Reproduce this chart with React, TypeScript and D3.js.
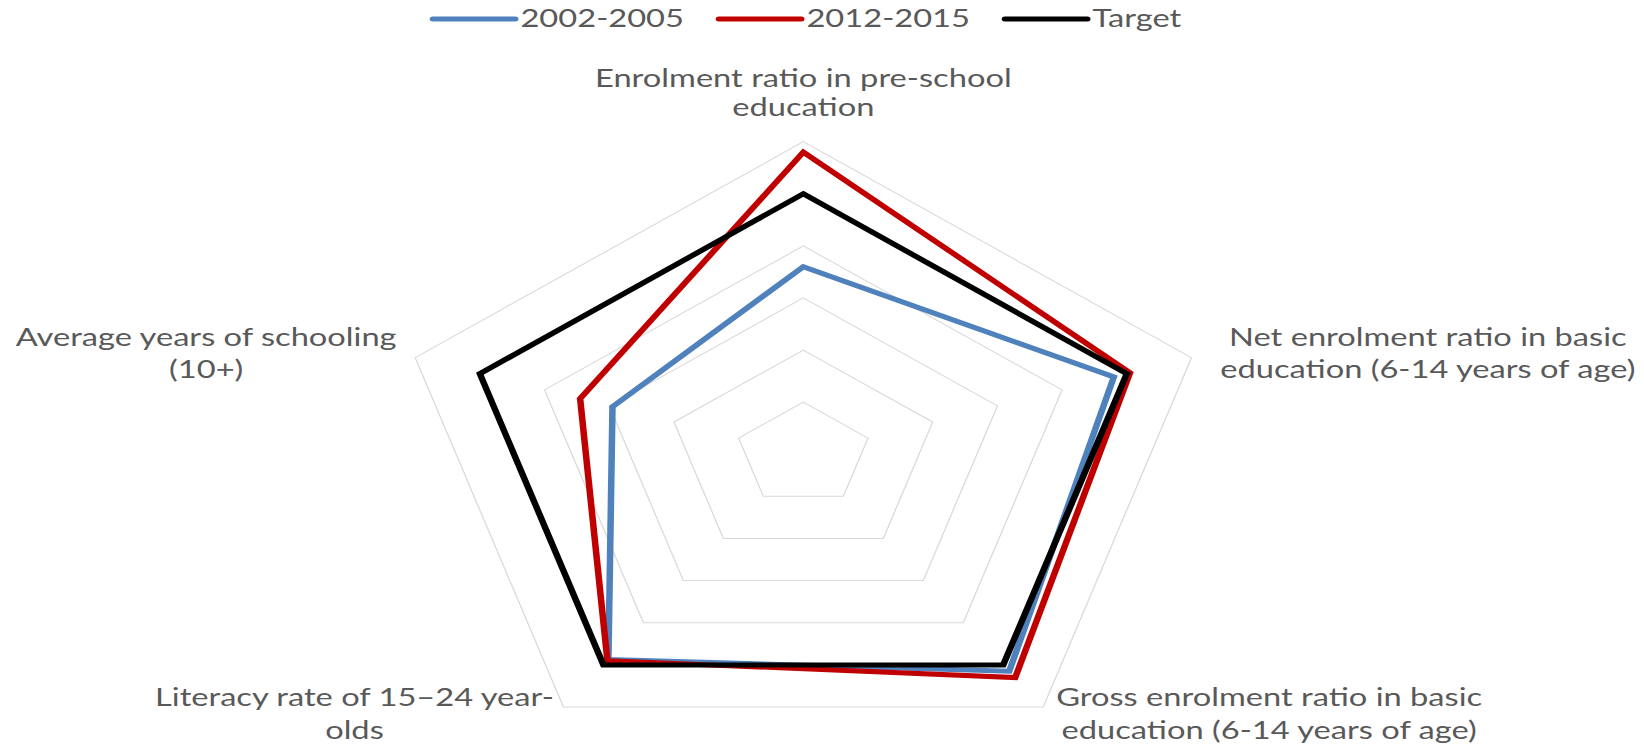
import React from "react";
import * as d3 from "d3";

// ---------- data ----------
const categoryLines: string[][] = [
  ["Enrolment ratio in pre-school", "education"],
  ["Net enrolment ratio in basic", "education (6-14 years of age)"],
  ["Gross enrolment ratio in basic", "education (6-14 years of age)"],
  ["Literacy rate of 15\u201324 year-", "olds"],
  ["Average years of schooling", "(10+)"],
];
const seriesNames = ["2002-2005", "2012-2015", "Target"];
const values2002 = [72, 96, 103, 97.5, 59];
const values2012 = [116, 101, 106, 98, 69];
const valuesTarget = [100, 100, 100, 100, 100];
const gridLevels = [20, 40, 60, 80, 100, 120];

// ---------- style / layout ----------
const W = 1644;
const H = 748;
const SX = 1.306; // horizontal stretch of the original picture
const CX = 615.1;
const CY = 454.2;
const R = 312.5;
const colors = ["#4f81bd", "#c00000", "#000000"];
const textColor = "#595959";
const font = "Lato, 'Open Sans', sans-serif";
const fontSize = 25;
const labelLayout = [
  { dx: 0, y: [87, 116] },
  { dx: 181, y: [346, 378] },
  { dx: 173, y: [706, 739] },
  { dx: -160, y: [706, 739] },
  { dx: -160, y: [346, 378] },
];

export default function App() {
  const r = d3.scaleLinear().domain([0, 120]).range([0, R]);
  const n = categoryLines.length;
  const angle = d3
    .scaleLinear()
    .domain([0, n])
    .range([0, 2 * Math.PI]);
  const pt = (i: number, v: number): [number, number] => [
    CX + r(v) * Math.sin(angle(i)),
    CY - r(v) * Math.cos(angle(i)),
  ];

  const radial = d3
    .lineRadial<number>()
    .angle((_, i) => angle(i))
    .radius((d) => r(d))
    .curve(d3.curveLinearClosed);

  const allSeries = [values2002, values2012, valuesTarget];

  const legendStart = 331.5;
  const legendStep = 219;
  const legendLine = 63;
  const legendY = 19;

  return (
    <svg
      width={W}
      height={H}
      style={{ position: "absolute", left: 0, top: 0, background: "#fff" }}
    >
      <rect x={0} y={0} width={W} height={H} fill="#fff" />
      <g transform={`scale(${SX},1)`}>
        {/* grid */}
        <g transform={`translate(${CX},${CY})`}>
          {gridLevels.map((lv) => (
            <path
              key={lv}
              d={radial(d3.range(n).map(() => lv)) || ""}
              fill="none"
              stroke="#d9d9d9"
              strokeWidth={1}
            />
          ))}
        </g>
        {/* series */}
        <g transform={`translate(${CX},${CY})`}>
          {allSeries.map((s, k) => (
            <path
              key={k}
              d={radial(s) || ""}
              fill="none"
              stroke={colors[k]}
              strokeWidth={5}
              strokeLinejoin="miter"
            />
          ))}
        </g>
        {/* category labels */}
        {categoryLines.map((lines, i) => {
          const [vx] = pt(i, 120);
          const L = labelLayout[i];
          return (
            <text
              key={i}
              fontFamily={font}
              fontSize={fontSize}
              fill={textColor}
              textAnchor="middle"
            >
              {lines.map((ln, j) => (
                <tspan key={j} x={vx + L.dx} y={L.y[j]}>
                  {ln}
                </tspan>
              ))}
            </text>
          );
        })}
        {/* legend */}
        {seriesNames.map((name, k) => {
          const x0 = legendStart + k * legendStep;
          return (
            <g key={name}>
              <line
                x1={x0}
                x2={x0 + legendLine}
                y1={legendY}
                y2={legendY}
                stroke={colors[k]}
                strokeWidth={5}
                strokeLinecap="round"
              />
              <text
                x={x0 + legendLine + 4}
                y={legendY + 8}
                fontFamily={font}
                fontSize={fontSize}
                fill={textColor}
              >
                {name}
              </text>
            </g>
          );
        })}
      </g>
    </svg>
  );
}
